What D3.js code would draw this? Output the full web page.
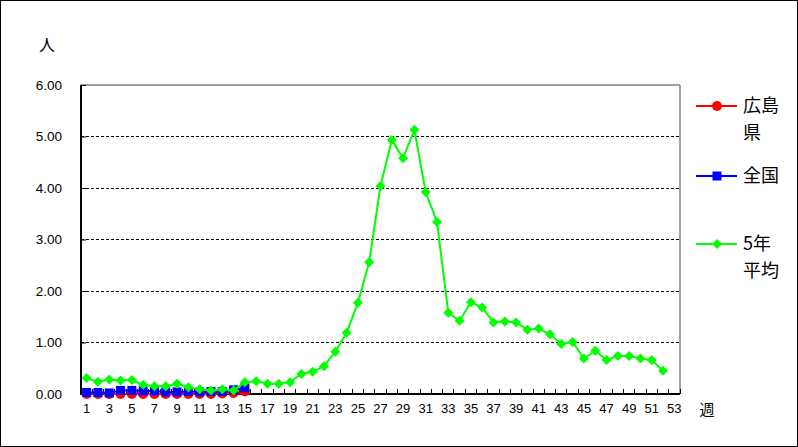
<!DOCTYPE html>
<html><head><meta charset="utf-8">
<script src="https://cdn.jsdelivr.net/npm/d3@7"></script>
<style>html,body{margin:0;padding:0;background:#fff;}svg{display:block;}</style>
</head><body>
<script>
const weeks = d3.range(1, 54);
const xLabels = d3.range(1, 54, 2);
const yTicks = [0, 1, 2, 3, 4, 5, 6];
const seriesNames = ["広島県", "全国", "5年平均"];
const hiroshima = [0,0,0,0,0,0,0,0,0,0,0,0,0.01,0.02,0.05];
const zenkoku = [0.03,0.03,0.02,0.07,0.07,0.06,0.06,0.04,0.04,0.05,0.04,0.05,0.05,0.08,0.12];
const avg5 = [0.31,0.24,0.28,0.26,0.27,0.18,0.15,0.15,0.20,0.13,0.09,0.07,0.09,0.07,0.23,0.25,0.20,0.20,0.23,0.39,0.43,0.54,0.82,1.19,1.77,2.56,4.04,4.93,4.58,5.13,3.92,3.34,1.58,1.42,1.78,1.68,1.39,1.41,1.39,1.25,1.27,1.16,0.97,1.01,0.69,0.84,0.66,0.74,0.74,0.69,0.66,0.45];

const W = 798, H = 447;
const svg = d3.select("body").append("svg").attr("width", W).attr("height", H);
svg.append("rect").attr("x",0.5).attr("y",0.5).attr("width",W-1).attr("height",H-1)
  .attr("fill","#fff").attr("stroke","#000").attr("stroke-width",1);

const L = 81, R = 680, T = 85, B = 394;
const x = d3.scaleBand().domain(weeks).range([L, R]).padding(0);
const cx = d => x(d) + x.bandwidth()/2;
const y = d3.scaleLinear().domain([0, 6]).range([B, T]);
const numFont = "'Liberation Sans', Arial, sans-serif";
const cjkFont = "'Noto Sans CJK JP', sans-serif";

// gridlines
svg.append("g").selectAll("line").data(yTicks.filter(v => v > 0 && v < 6)).join("line")
  .attr("x1", L).attr("x2", R).attr("y1", d => y(d)).attr("y2", d => y(d))
  .attr("stroke", "#000").attr("stroke-width", 1).attr("stroke-dasharray", "3,2")
  .attr("shape-rendering","crispEdges");

// frame top / right (gray)
svg.append("line").attr("x1", L).attr("x2", R).attr("y1", T).attr("y2", T)
  .attr("stroke", "#808080").attr("stroke-width", 1.5);
svg.append("line").attr("x1", R).attr("x2", R).attr("y1", T).attr("y2", B)
  .attr("stroke", "#808080").attr("stroke-width", 1.5);

// y axis
const yAxis = svg.append("g").attr("transform", `translate(${L},0)`)
  .call(d3.axisLeft(y).tickValues(yTicks).tickSize(-5).tickPadding(19).tickFormat(d3.format(".2f")));
yAxis.select(".domain").remove();
yAxis.selectAll("line").attr("stroke","#000");
yAxis.selectAll("text").attr("font-family", numFont).attr("font-size", 13.5).attr("fill","#000");

// x axis ticks at category boundaries
svg.append("g").selectAll("line").data(d3.range(0, weeks.length + 1)).join("line")
  .attr("x1", i => L + i * x.bandwidth()).attr("x2", i => L + i * x.bandwidth())
  .attr("y1", B).attr("y2", B - 5).attr("stroke", "#000").attr("stroke-width", 1)
  .attr("shape-rendering","crispEdges");
const xAxis = svg.append("g").attr("transform", `translate(0,${B})`)
  .call(d3.axisBottom(x).tickValues(xLabels).tickSize(0).tickPadding(10));
xAxis.select(".domain").remove();
xAxis.selectAll("text").attr("font-family", numFont).attr("font-size", 13).attr("fill","#000");

// axes lines
svg.append("line").attr("x1", L).attr("x2", L).attr("y1", T).attr("y2", B+1).attr("stroke","#000").attr("stroke-width",2);
svg.append("line").attr("x1", L).attr("x2", R).attr("y1", B).attr("y2", B).attr("stroke","#000").attr("stroke-width",2);

// unit labels
svg.append("text").attr("x", 47).attr("y", 51).attr("text-anchor","middle")
  .attr("font-family", cjkFont).attr("font-size", 16).text("人");
svg.append("text").attr("x", 707).attr("y", 415).attr("text-anchor","middle")
  .attr("font-family", cjkFont).attr("font-size", 15).text("週");

const line = d3.line().x((d, i) => cx(weeks[i])).y(d => y(d));

function drawSeries(data, color, marker) {
  const g = svg.append("g");
  g.append("path").datum(data).attr("d", line).attr("fill","none")
    .attr("stroke", color).attr("stroke-width", 2);
  const pts = g.selectAll(".m").data(data).join("g")
    .attr("transform", (d, i) => `translate(${cx(weeks[i])},${y(d)})`);
  marker(pts, color);
}
const circleM = (s, c) => s.append("circle").attr("r", 5).attr("fill", c);
const squareM = (s, c) => s.append("rect").attr("x", -4.5).attr("y", -4.5).attr("width", 9).attr("height", 9).attr("fill", c);
const diamondM = (s, c) => s.append("path").attr("d", "M0,-5L5,0L0,5L-5,0Z").attr("fill", c);

drawSeries(hiroshima, "#ff0000", circleM);
drawSeries(zenkoku, "#0000ff", squareM);
drawSeries(avg5, "#00ff00", diamondM);

// legend
const legend = [
  {name: seriesNames[0], lines: ["広島", "県"], color: "#ff0000", m: circleM, y: 106},
  {name: seriesNames[1], lines: ["全国"], color: "#0000ff", m: squareM, y: 176},
  {name: seriesNames[2], lines: ["5年", "平均"], color: "#00ff00", m: diamondM, y: 244}
];
legend.forEach(it => {
  const g = svg.append("g");
  g.append("line").attr("x1", 696).attr("x2", 737).attr("y1", it.y).attr("y2", it.y)
    .attr("stroke", it.color).attr("stroke-width", 2);
  it.m(g.append("g").attr("transform", `translate(717,${it.y})`), it.color);
  it.lines.forEach((t, k) => {
    g.append("text").attr("x", 743).attr("y", it.y + k * 27).attr("dy", "0.36em")
      .attr("font-family", cjkFont).attr("font-size", 18).attr("fill", "#000").text(t);
  });
});
</script>
</body></html>
